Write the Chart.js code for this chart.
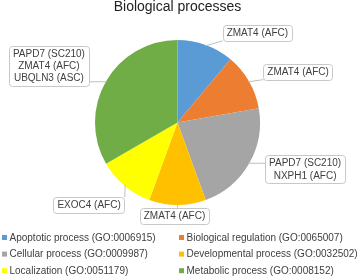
<!DOCTYPE html>
<html>
<head>
<meta charset="utf-8">
<script src="https://cdn.jsdelivr.net/npm/chart.js@4/dist/chart.umd.min.js"></script>
<style>
  html, body { margin: 0; padding: 0; background: #fff; }
  #wrap { width: 358px; height: 278px; position: relative; }
</style>
</head>
<body>
<div id="wrap"><canvas id="piechart"></canvas></div>
<script>
const categories = [
  "Apoptotic process (GO:0006915)",
  "Biological regulation (GO:0065007)",
  "Cellular process (GO:0009987)",
  "Developmental process (GO:0032502)",
  "Localization (GO:0051179)",
  "Metabolic process (GO:0008152)"
];
const geneCounts = [1, 1, 2, 1, 1, 3];
const geneLabels = [
  ["ZMAT4 (AFC)"],
  ["ZMAT4 (AFC)"],
  ["PAPD7 (SC210)", "NXPH1 (AFC)"],
  ["ZMAT4 (AFC)"],
  ["EXOC4 (AFC)"],
  ["PAPD7 (SC210)", "ZMAT4 (AFC)", "UBQLN3 (ASC)"]
];
const sliceColors = ["#5b9bd5", "#ed7d31", "#a5a5a5", "#ffc000", "#ffff00", "#70ad47"];

// callout box offset from the slice's outer edge (px)
const calloutOffsets = [[52, -13], [50, -10], [57, 6], [-3, 11.5], [-36, 20], [-58, -16]];

const FONT = "'Liberation Sans', Arial, sans-serif";
const TEXT_SIZE = 10;

const calloutPlugin = {
  id: "callouts",
  afterDatasetsDraw(chart) {
    const ctx = chart.ctx;
    const arcs = chart.getDatasetMeta(0).data;
    ctx.save();
    ctx.font = TEXT_SIZE + "px " + FONT;
    arcs.forEach((arc, i) => {
      const p = arc.getProps(["x", "y", "startAngle", "endAngle", "outerRadius"], true);
      const mid = (p.startAngle + p.endAngle) / 2;
      const ex = p.x + Math.cos(mid) * (p.outerRadius - 1);
      const ey = p.y + Math.sin(mid) * (p.outerRadius - 1);
      const lines = geneLabels[i];
      const w = Math.max(...lines.map(t => ctx.measureText(t).width)) + 8;
      const lh = 12.3;
      const h = lines.length * lh + 3.5;
      const cx = ex + calloutOffsets[i][0];
      const cy = ey + calloutOffsets[i][1];
      const bx = cx - w / 2, by = cy - h / 2;
      // leader line
      const tx = Math.min(Math.max(ex, bx), bx + w);
      const ty = Math.min(Math.max(ey, by), by + h);
      ctx.strokeStyle = "#bfbfbf";
      ctx.lineWidth = 1;
      ctx.beginPath();
      ctx.moveTo(ex, ey);
      ctx.lineTo(tx, ty);
      ctx.stroke();
      // box
      ctx.fillStyle = "#fff";
      ctx.strokeStyle = "#c8c8c8";
      ctx.beginPath();
      ctx.roundRect(Math.round(bx) + 0.5, Math.round(by) + 0.5, Math.round(w), Math.round(h), 3);
      ctx.fill();
      ctx.stroke();
      ctx.fillStyle = "#404040";
      ctx.textAlign = "center";
      ctx.textBaseline = "middle";
      lines.forEach((t, k) => {
        ctx.fillText(t, cx, by + 1.75 + lh / 2 + k * lh + 0.5);
      });
    });
    ctx.restore();
  }
};

const legendPlugin = {
  id: "twoColLegend",
  afterDraw(chart) {
    const ctx = chart.ctx;
    const colX = [2, 179];
    const rowY0 = chart.chartArea.bottom + 32.5;
    const rowGap = 16.6;
    ctx.save();
    ctx.font = TEXT_SIZE + "px " + FONT;
    ctx.textBaseline = "middle";
    ctx.textAlign = "left";
    chart.data.labels.forEach((label, i) => {
      const x = colX[i % 2];
      const y = rowY0 + Math.floor(i / 2) * rowGap;
      ctx.fillStyle = sliceColors[i];
      ctx.fillRect(x, y - 2.5, 5, 5);
      ctx.fillStyle = "#404040";
      ctx.fillText(label, x + 7.5, y + 0.5);
    });
    ctx.restore();
  }
};

new Chart("piechart", {
  type: "pie",
  data: {
    labels: categories,
    datasets: [{
      data: geneCounts,
      backgroundColor: sliceColors,
      borderWidth: 0
    }]
  },
  options: {
    responsive: true,
    maintainAspectRatio: false,
    animation: false,
    layout: { padding: { top: 0, bottom: 73, left: 0, right: 3 } },
    plugins: {
      legend: { display: false },
      tooltip: { enabled: false },
      title: {
        display: true,
        text: "Biological processes",
        color: "#222",
        font: { family: FONT, size: 14, weight: "normal", lineHeight: 1 },
        padding: { top: 0, bottom: 26 }
      }
    }
  },
  plugins: [calloutPlugin, legendPlugin]
});
</script>
</body>
</html>
